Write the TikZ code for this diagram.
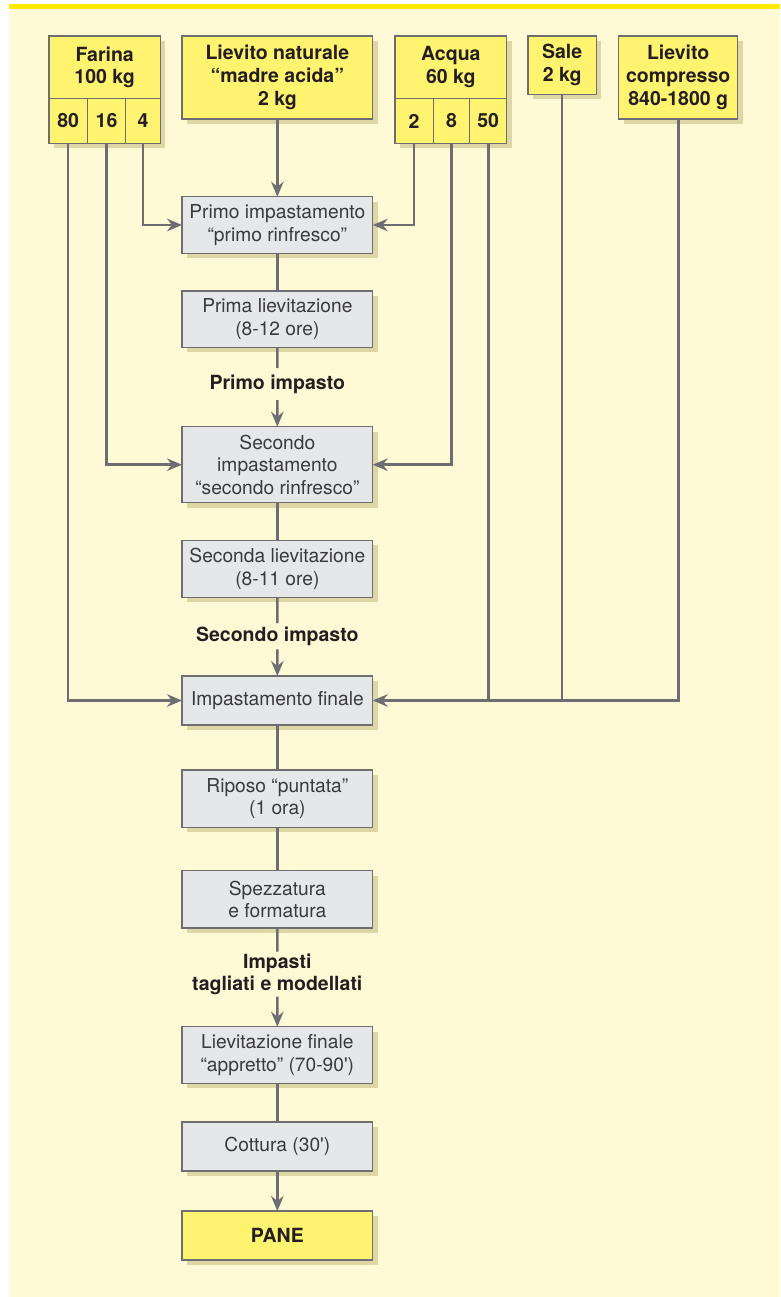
\documentclass[tikz,border=0pt]{standalone}
\usepackage{fontspec}
\setmainfont{TeX Gyre Heros}
\usetikzlibrary{arrows.meta,shadows}

\definecolor{cream}{HTML}{FFF9D6}
\definecolor{topband}{HTML}{FFE900}
\definecolor{ingred}{HTML}{FFF36F}
\definecolor{stepfill}{HTML}{E6E7E8}
\definecolor{shade}{HTML}{DED7A5}
\definecolor{edge}{HTML}{6D6E71}
\definecolor{ink}{HTML}{231F20}
\definecolor{softink}{HTML}{3A3A3C}

\newcommand\flowstepfont{\fontsize{19.2}{22.7}\selectfont}
\newcommand\flowheadfont{\fontsize{19.5}{22.7}\selectfont\bfseries}

\tikzset{
  boxbase/.style={draw=edge, line width=1.4pt, inner sep=0pt, outer sep=0pt,
    align=center, anchor=north west},
  boxshadow/.style={drop shadow={shadow xshift=5pt, shadow yshift=-5pt,
    fill=shade, opacity=1}},
  ingbox/.style={boxbase, boxshadow, fill=ingred, font=\flowheadfont, text=ink},
  cellbox/.style={boxbase, fill=ingred, font=\flowheadfont, text=ink},
  stepbox/.style={boxbase, boxshadow, fill=stepfill, minimum width=190.7pt,
    font=\flowstepfont, text=softink},
  steplabel/.style={inner sep=0pt, outer sep=0pt, align=center,
    font=\flowheadfont, text=ink},
  conn/.style={draw=edge, line width=2.6pt},
  arr/.style={conn, -{Stealth[length=15pt,width=12.5pt,inset=5pt]}},
}

\begin{document}
\begin{tikzpicture}[x=1pt,y=-1pt]
  % page and backdrop
  \useasboundingbox (0,0) rectangle (780,1297);
  \fill[white] (0,0) rectangle (780,1297);
  \fill[cream] (9.3,9) rectangle (780,1297);
  \fill[topband] (9.3,4) rectangle (780,9);

  % ingredients: flour, split into three portions
  \node[ingbox, minimum width=111.3pt, minimum height=107.3pt] (farinabox) at (49,36) {};
  \node[cellbox, minimum width=111.3pt, minimum height=62.7pt] (farina) at (49,36) {Farina\\100 kg};
  \node[cellbox, minimum width=38.3pt, minimum height=44.6pt] (f80) at (49,98.7) {80};
  \node[cellbox, minimum width=38.4pt, minimum height=44.6pt] (f16) at (87.3,98.7) {16};
  \node[cellbox, minimum width=34.6pt, minimum height=44.6pt] (f4) at (125.7,98.7) {4};

  % sourdough starter
  \node[ingbox, minimum width=190.7pt, minimum height=83pt] (lnat) at (182,36)
    {Lievito naturale\\“madre acida”\\2 kg};

  % water, split into three portions
  \node[ingbox, minimum width=111.7pt, minimum height=107.3pt] (acquabox) at (395,36) {};
  \node[cellbox, minimum width=111.7pt, minimum height=62.7pt] (acqua) at (395,36) {Acqua\\60 kg};
  \node[cellbox, minimum width=38.3pt, minimum height=44.6pt] (a2) at (395,98.7) {2};
  \node[cellbox, minimum width=36.4pt, minimum height=44.6pt] (a8) at (433.3,98.7) {8};
  \node[cellbox, minimum width=37pt, minimum height=44.6pt] (a50) at (469.7,98.7) {50};

  % salt and compressed yeast
  \node[ingbox, minimum width=68.3pt, minimum height=58.3pt] (sale) at (528,36) {Sale\\2 kg};
  \node[ingbox, minimum width=119pt, minimum height=83pt] (lcomp) at (618.7,36)
    {Lievito\\compresso\\840-1800 g};

  % process steps
  \node[stepbox, minimum height=56.6pt] (primo) at (182,196.7)
    {Primo impastamento\\“primo rinfresco”};
  \node[stepbox, minimum height=56.3pt] (primalie) at (182,291)
    {Prima lievitazione\\(8-12 ore)};
  \node[steplabel, minimum height=32pt] (lab1) at (277.3,384) {Primo impasto};
  \node[stepbox, minimum height=76pt] (sec) at (182,426.7)
    {Secondo\\impastamento\\“secondo rinfresco”};
  \node[stepbox, minimum height=57pt] (secondalie) at (182,540.3)
    {Seconda lievitazione\\(8-11 ore)};
  \node[steplabel, minimum height=26.3pt] (lab2) at (277.3,636.3) {Secondo impasto};
  \node[stepbox, minimum height=49pt] (impfin) at (182,676) {Impastamento finale};
  \node[stepbox, minimum height=57.3pt] (riposo) at (182,770)
    {Riposo “puntata”\\(1 ora)};
  \node[stepbox, minimum height=57.3pt] (spezz) at (182,870.7)
    {Spezzatura\\e formatura};
  \node[steplabel, minimum height=45pt] (lab3) at (277.3,974.2)
    {Impasti\\tagliati e modellati};
  \node[stepbox, minimum height=56.6pt] (lievfin) at (182,1026.7)
    {Lievitazione finale\\“appretto” (70-90\textquotesingle)};
  \node[stepbox, minimum height=49pt] (cottura) at (182,1122)
    {Cottura (30\textquotesingle)};
  \node[ingbox, minimum width=190.7pt, minimum height=49pt] (pane) at (182,1211) {PANE};

  % feeds from the ingredients
  \draw[arr] (f80.south) |- (impfin.west);
  \draw[arr] (f16.south) |- (sec.west);
  \draw[arr] (f4.south) |- (primo.west);
  \draw[arr] (lnat.south) -- (primo.north);
  \draw[arr] (a2.south) |- (primo.east);
  \draw[arr] (a8.south) |- (sec.east);
  \draw[arr] (lcomp.south) |- (impfin.east);
  \draw[conn] (a50.south) -- (a50.south |- impfin.east);
  \draw[conn] (sale.south) -- (sale.south |- impfin.east);

  % main sequence
  \draw[conn] (primo.south) -- (primalie.north);
  \draw[conn] (primalie.south) -- (lab1.north);
  \draw[arr] (lab1.south) -- (sec.north);
  \draw[conn] (sec.south) -- (secondalie.north);
  \draw[conn] (secondalie.south) -- (lab2.north);
  \draw[arr] (lab2.south) -- (impfin.north);
  \draw[conn] (impfin.south) -- (riposo.north);
  \draw[conn] (riposo.south) -- (spezz.north);
  \draw[conn] (spezz.south) -- (lab3.north);
  \draw[arr] (lab3.south) -- (lievfin.north);
  \draw[conn] (lievfin.south) -- (cottura.north);
  \draw[arr] (cottura.south) -- (pane.north);
\end{tikzpicture}
\end{document}
